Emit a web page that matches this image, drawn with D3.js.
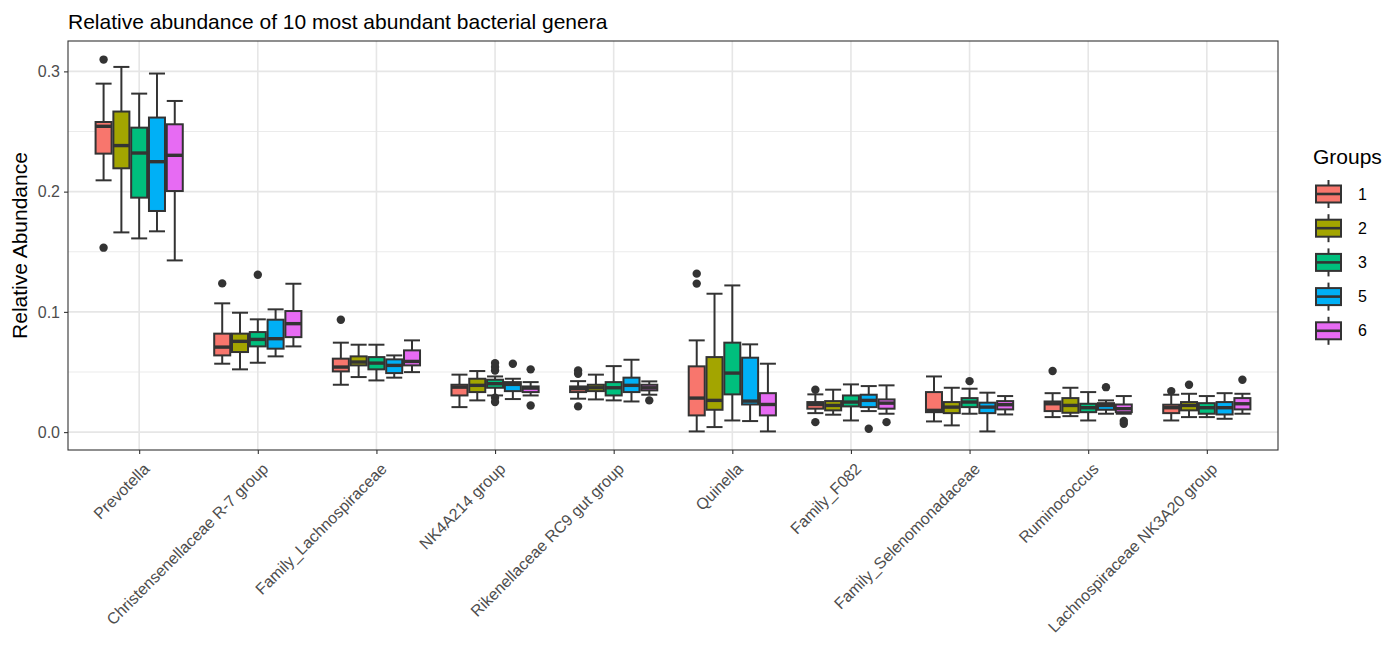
<!DOCTYPE html>
<html>
<head>
<meta charset="utf-8">
<script src="https://cdn.jsdelivr.net/npm/d3@7"></script>
<style>
  html, body { margin: 0; padding: 0; background: #fff; }
  svg { display: block; font-family: "Liberation Sans", Arial, Helvetica, sans-serif; }
</style>
</head>
<body>
<svg id="chart" width="1387" height="668"></svg>
<script>
// Genera on the x axis, in plotting order
const categories = [
  "Prevotella", "Christensenellaceae R-7 group", "Family_Lachnospiraceae",
  "NK4A214 group", "Rikenellaceae RC9 gut group", "Quinella", "Family_F082",
  "Family_Selenomonadaceae", "Ruminococcus", "Lachnospiraceae NK3A20 group"
];
const groups = ["1", "2", "3", "5", "6"];
const groupColors = ["#F8766D", "#A3A500", "#00BF7D", "#00B0F6", "#E76BF3"];

// Box statistics, one row per genus, one value per group (1, 2, 3, 5, 6)
const lowerWhisker = [
  [0.2094, 0.1661, 0.1611, 0.1670, 0.1428],
  [0.0569, 0.0522, 0.0577, 0.0630, 0.0713],
  [0.0394, 0.0458, 0.0430, 0.0453, 0.0499],
  [0.0208, 0.0264, 0.0305, 0.0275, 0.0305],
  [0.0278, 0.0272, 0.0264, 0.0255, 0.0311],
  [0.0006, 0.0042, 0.0097, 0.0092, 0.0006],
  [0.0158, 0.0145, 0.0097, 0.0175, 0.0153],
  [0.0089, 0.0056, 0.0153, 0.0006, 0.0147],
  [0.0125, 0.0133, 0.0097, 0.0153, 0.0153],
  [0.0097, 0.0125, 0.0125, 0.0111, 0.0153]
];
const q1 = [
  [0.2316, 0.2194, 0.1950, 0.1839, 0.2005],
  [0.0638, 0.0666, 0.0713, 0.0694, 0.0790],
  [0.0505, 0.0555, 0.0522, 0.0491, 0.0555],
  [0.0305, 0.0333, 0.0369, 0.0341, 0.0333],
  [0.0333, 0.0341, 0.0305, 0.0333, 0.0347],
  [0.0139, 0.0186, 0.0314, 0.0230, 0.0139],
  [0.0195, 0.0181, 0.0214, 0.0208, 0.0195],
  [0.0166, 0.0158, 0.0208, 0.0158, 0.0189],
  [0.0175, 0.0161, 0.0166, 0.0186, 0.0166],
  [0.0158, 0.0181, 0.0153, 0.0147, 0.0189]
];
const median = [
  [0.2543, 0.2383, 0.2321, 0.2249, 0.2302],
  [0.0707, 0.0755, 0.0771, 0.0777, 0.0902],
  [0.0541, 0.0583, 0.0574, 0.0555, 0.0588],
  [0.0374, 0.0389, 0.0403, 0.0397, 0.0366],
  [0.0361, 0.0369, 0.0369, 0.0389, 0.0369],
  [0.0283, 0.0264, 0.0491, 0.0258, 0.0230],
  [0.0230, 0.0222, 0.0250, 0.0264, 0.0241],
  [0.0181, 0.0208, 0.0250, 0.0208, 0.0228],
  [0.0236, 0.0222, 0.0203, 0.0222, 0.0195],
  [0.0203, 0.0222, 0.0203, 0.0203, 0.0236]
];
const q3 = [
  [0.2579, 0.2666, 0.2532, 0.2616, 0.2560],
  [0.0819, 0.0819, 0.0832, 0.0935, 0.1007],
  [0.0611, 0.0630, 0.0624, 0.0605, 0.0680],
  [0.0394, 0.0444, 0.0436, 0.0416, 0.0380],
  [0.0380, 0.0394, 0.0416, 0.0453, 0.0394],
  [0.0547, 0.0624, 0.0744, 0.0619, 0.0324],
  [0.0250, 0.0258, 0.0305, 0.0311, 0.0272],
  [0.0333, 0.0250, 0.0283, 0.0245, 0.0258],
  [0.0255, 0.0283, 0.0236, 0.0241, 0.0230],
  [0.0228, 0.0250, 0.0241, 0.0250, 0.0283]
];
const upperWhisker = [
  [0.2898, 0.3037, 0.2815, 0.2982, 0.2754],
  [0.1071, 0.0993, 0.0938, 0.1021, 0.1234],
  [0.0744, 0.0727, 0.0727, 0.0638, 0.0763],
  [0.0478, 0.0508, 0.0463, 0.0444, 0.0416],
  [0.0424, 0.0478, 0.0549, 0.0602, 0.0422],
  [0.0763, 0.1151, 0.1220, 0.0730, 0.0569],
  [0.0314, 0.0353, 0.0397, 0.0383, 0.0389],
  [0.0463, 0.0369, 0.0361, 0.0328, 0.0300],
  [0.0324, 0.0369, 0.0333, 0.0264, 0.0300],
  [0.0311, 0.0319, 0.0300, 0.0324, 0.0319]
];
const outliers = [
  [[0.3098, 0.1534], [], [], [], []],
  [[0.1237], [], [0.1309], [], []],
  [[0.0935], [], [], [], []],
  [[], [], [0.0574, 0.0541, 0.0513, 0.0286, 0.0250], [0.0569], [0.0522, 0.0222]],
  [[0.0513, 0.0486, 0.0214], [], [], [], [0.0264]],
  [[0.1318, 0.1235], [], [], [], []],
  [[0.0353, 0.0083], [], [], [0.0028], [0.0083]],
  [[], [], [0.0424], [], []],
  [[0.0508], [], [], [0.0374], [0.0092, 0.0070]],
  [[0.0341], [0.0394], [], [], [0.0436]]
];
const yTicks = [0.0, 0.1, 0.2, 0.3];
const yMinorTicks = [0.05, 0.15, 0.25];

const titleText = "Relative abundance of 10 most abundant bacterial genera";
const yTitleText = "Relative Abundance";
const legendTitle = "Groups";

// ---- layout ----
const svg = d3.select("#chart");
const panel = { left: 68, right: 1278, top: 41, bottom: 450 };
const ink = "#333333";
const tickFont = "16px";

// y domain: data range expanded by 5% on both sides
const allVals = [lowerWhisker, upperWhisker, outliers].flat(3);
const lo = d3.min(allVals), hi = d3.max(allVals);
const pad = (hi - lo) * 0.05;
const y = d3.scaleLinear().domain([lo - pad, hi + pad]).range([panel.bottom, panel.top]);

// discrete x: 0.6 units of expansion on each side
const x = d3.scalePoint().domain(categories).range([panel.left, panel.right]).padding(0.6);
const dodgeWidth = x.step() * 0.75;
const xg = d3.scaleBand().domain(groups).range([-dodgeWidth / 2, dodgeWidth / 2]).paddingInner(0.1).paddingOuter(0.05);
const bw = xg.bandwidth();

// panel background
svg.append("rect").attr("x", panel.left).attr("y", panel.top)
  .attr("width", panel.right - panel.left).attr("height", panel.bottom - panel.top)
  .attr("fill", "#fff");

const grid = svg.append("g");
yMinorTicks.forEach(t => grid.append("line")
  .attr("x1", panel.left).attr("x2", panel.right).attr("y1", y(t)).attr("y2", y(t))
  .attr("stroke", "#EBEBEB").attr("stroke-width", 1));
yTicks.forEach(t => grid.append("line")
  .attr("x1", panel.left).attr("x2", panel.right).attr("y1", y(t)).attr("y2", y(t))
  .attr("stroke", "#E6E6E6").attr("stroke-width", 1.6));
categories.forEach(c => grid.append("line")
  .attr("x1", x(c)).attr("x2", x(c)).attr("y1", panel.top).attr("y2", panel.bottom)
  .attr("stroke", "#E6E6E6").attr("stroke-width", 1.6));

// box records
const boxes = [];
categories.forEach((c, i) => groups.forEach((g, j) => {
  boxes.push({
    cx: x(c) + xg(g) + bw / 2, color: groupColors[j],
    lw: lowerWhisker[i][j], q1: q1[i][j], med: median[i][j], q3: q3[i][j],
    uw: upperWhisker[i][j], out: outliers[i][j]
  });
}));

// error bars (whiskers with caps)
const eb = svg.append("g").attr("stroke", ink).attr("stroke-width", 2).attr("fill", "none");
boxes.forEach(b => {
  eb.append("line").attr("x1", b.cx).attr("x2", b.cx).attr("y1", y(b.lw)).attr("y2", y(b.uw));
  [b.lw, b.uw].forEach(v => eb.append("line")
    .attr("x1", b.cx - bw / 2).attr("x2", b.cx + bw / 2).attr("y1", y(v)).attr("y2", y(v)));
});

// boxes, medians, outliers
const bx = svg.append("g");
boxes.forEach(b => {
  bx.append("rect").attr("x", b.cx - bw / 2).attr("width", bw)
    .attr("y", y(b.q3)).attr("height", Math.max(0.5, y(b.q1) - y(b.q3)))
    .attr("fill", b.color).attr("stroke", ink).attr("stroke-width", 2);
  bx.append("line").attr("x1", b.cx - bw / 2).attr("x2", b.cx + bw / 2)
    .attr("y1", y(b.med)).attr("y2", y(b.med))
    .attr("stroke", ink).attr("stroke-width", 3.4);
  b.out.forEach(v => bx.append("circle").attr("cx", b.cx).attr("cy", y(v)).attr("r", 4.2)
    .attr("fill", ink));
});

// panel border
svg.append("rect").attr("x", panel.left).attr("y", panel.top)
  .attr("width", panel.right - panel.left).attr("height", panel.bottom - panel.top)
  .attr("fill", "none").attr("stroke", ink).attr("stroke-width", 1.1);

// y axis
const yAxis = svg.append("g").attr("transform", `translate(${panel.left},0)`)
  .call(d3.axisLeft(y).tickValues(yTicks).tickFormat(d3.format(".1f")).tickSize(4).tickPadding(4));
yAxis.select(".domain").remove();
yAxis.selectAll(".tick line").attr("stroke", ink).attr("stroke-width", 1.1);
yAxis.selectAll(".tick text").attr("fill", "#4D4D4D").style("font-size", tickFont)
  .style("font-family", "\"Liberation Sans\", Arial, sans-serif");

// x axis
const xAxis = svg.append("g").attr("transform", `translate(0,${panel.bottom})`)
  .call(d3.axisBottom(x).tickSize(4).tickPadding(4));
xAxis.select(".domain").remove();
xAxis.selectAll(".tick line").attr("stroke", ink).attr("stroke-width", 1.1);
xAxis.selectAll(".tick text")
  .attr("fill", "#4D4D4D").style("font-size", tickFont)
  .style("font-family", "\"Liberation Sans\", Arial, sans-serif")
  .attr("text-anchor", "end").attr("dy", null).attr("y", null)
  .attr("transform", "translate(3,12) rotate(-45)")
  .attr("dominant-baseline", "hanging");

// titles
svg.append("text").attr("x", panel.left).attr("y", 29)
  .style("font-size", "21px").attr("fill", "#000").text(titleText);
svg.append("text").attr("transform", `translate(27,${(panel.top + panel.bottom) / 2}) rotate(-90)`)
  .attr("text-anchor", "middle").style("font-size", "21px").attr("fill", "#000").text(yTitleText);

// legend
const lg = svg.append("g").attr("transform", "translate(1313,0)");
lg.append("text").attr("x", 0).attr("y", 164)
  .style("font-size", "21px").attr("fill", "#000").text(legendTitle);
groups.forEach((g, j) => {
  const cy = 194 + j * 34.2;
  const kx = 3, kw = 25, kh = 17;
  lg.append("line").attr("x1", kx + kw / 2).attr("x2", kx + kw / 2)
    .attr("y1", cy - 14).attr("y2", cy + 14).attr("stroke", ink).attr("stroke-width", 2);
  lg.append("rect").attr("x", kx).attr("y", cy - kh / 2).attr("width", kw).attr("height", kh)
    .attr("fill", groupColors[j]).attr("stroke", ink).attr("stroke-width", 2);
  lg.append("line").attr("x1", kx).attr("x2", kx + kw).attr("y1", cy).attr("y2", cy)
    .attr("stroke", ink).attr("stroke-width", 2.6);
  lg.append("text").attr("x", 45).attr("y", cy).attr("dy", "0.35em")
    .style("font-size", "16px").attr("fill", "#000").text(g);
});
</script>
</body>
</html>
